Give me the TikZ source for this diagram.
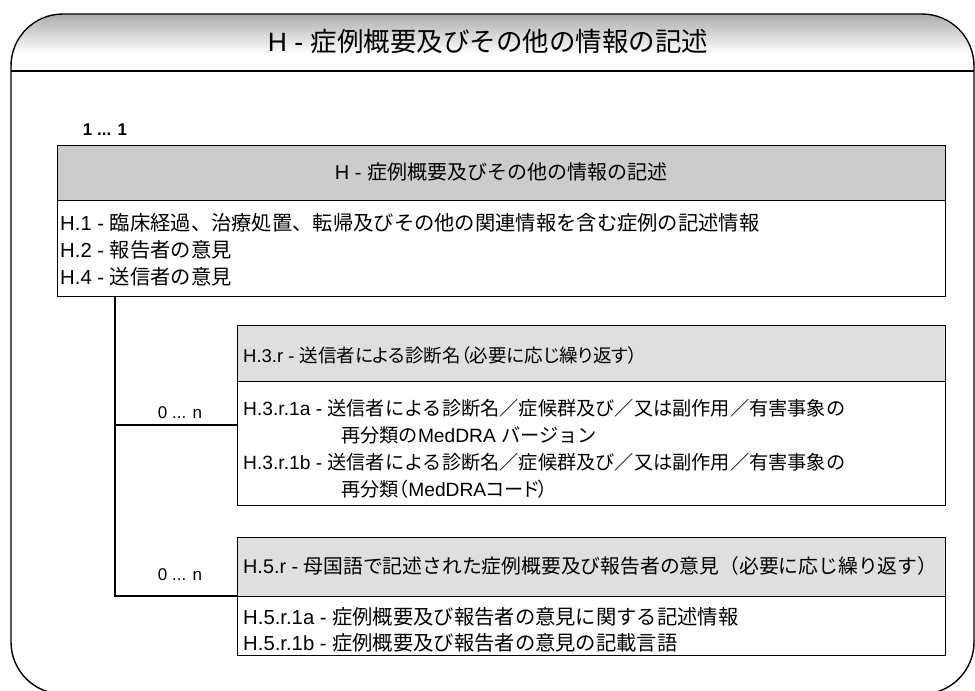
\documentclass[tikz,border=0pt]{standalone}
\usepackage{fontspec}
\setmainfont{Noto Sans CJK JP}
\newfontfamily\jpp{Noto Sans CJK JP}[RawFeature=+palt]
\newfontfamily\lat{Liberation Sans}
\usetikzlibrary{positioning}
\tikzset{
  boxline/.style={draw=black, line width=0.9pt},
  hdrmain/.style={boxline, fill=gray!40, anchor=north west, inner sep=0pt},
  hdrsub/.style={boxline, fill=gray!25, anchor=north west, inner sep=0pt},
  bodybox/.style={boxline, fill=white, anchor=north west, inner sep=0pt},
  txt/.style={anchor=west, inner sep=0pt, font=\fontsize{20.3}{21}\selectfont},
  txtb/.style={anchor=west, inner sep=0pt, font=\fontsize{19.2}{20}\selectfont},
  ctxt/.style={inner sep=0pt, font=\fontsize{20}{21}\selectfont},
  mult/.style={inner sep=0pt, font=\lat\fontsize{17}{18}\selectfont},
  conn/.style={draw=black, line width=1.8pt},
}
\begin{document}
\begin{tikzpicture}[x=1pt,y=-1pt]
\useasboundingbox (0,0) rectangle (975,691);
\begin{scope}
\clip (0,0) rectangle (975,691);
% title band shading
\begin{scope}
\clip[rounded corners=55pt] (11,14) rectangle (974,694);
\shade[top color=gray!65, bottom color=white] (0,14) rectangle (975,54);
\fill[white] (0,54) rectangle (975,71);
\end{scope}
\draw[line width=1.4pt, rounded corners=52pt] (11,14) rectangle (974,694);
\end{scope}
\draw[line width=1.4pt] (11,71) -- (974,71);
\node[font=\fontsize{26.5}{27}\selectfont] (title) at (488,41) {{\lat H - }症例概要及びその他の情報の記述};

% multiplicity
\node[mult, font=\lat\bfseries\fontsize{17}{18}\selectfont] (m11) at (105,130) {1 ... 1};

% main box
\node[hdrmain, minimum width=888pt, minimum height=55pt] (mainhdr) at (57,145) {};
\node[bodybox, minimum width=888pt, minimum height=96pt] (mainbody) at (57,200) {};
\node[ctxt] (mainttl) at (501,172) {{\lat H - }症例概要及びその他の情報の記述};
\node[txt] (h1) at (60,223) {{\lat H.1 - }臨床経過、治療処置、転帰及びその他の関連情報を含む症例の記述情報};
\node[txt] (h2) at (60,250) {{\lat H.2 - }報告者の意見};
\node[txt] (h4) at (60,277) {{\lat H.4 - }送信者の意見};

% H.3.r box
\node[hdrsub, minimum width=708pt, minimum height=56pt] (h3hdr) at (237,325) {};
\node[bodybox, minimum width=708pt, minimum height=124pt] (h3body) at (237,381) {};
\node[txt, font=\jpp\fontsize{18.5}{20}\selectfont] (h3t) at (243,355) {{\lat H.3.r - }送信者による診断名（必要に応じ繰り返す）};
\node[txtb] (h3a) at (243,408) {{\lat H.3.r.1a - }送信者による診断名／症候群及び／又は副作用／有害事象の};
\node[txtb] (h3a2) at (341,435) {再分類の{\lat MedDRA }バージョン};
\node[txtb] (h3b) at (243,462) {{\lat H.3.r.1b - }送信者による診断名／症候群及び／又は副作用／有害事象の};
\node[txtb, font=\jpp\fontsize{19.2}{20}\selectfont] (h3b2) at (341,489) {再分類（{\lat MedDRA}コード）};

% H.5.r box
\node[hdrsub, minimum width=708pt, minimum height=59pt] (h5hdr) at (237,537) {};
\node[bodybox, minimum width=708pt, minimum height=59pt] (h5body) at (237,596) {};
\node[txt, font=\fontsize{19.8}{21}\selectfont] (h5t) at (243,566) {{\lat H.5.r - }母国語で記述された症例概要及び報告者の意見（必要に応じ繰り返す）};
\node[txt] (h5a) at (243,617) {{\lat H.5.r.1a - }症例概要及び報告者の意見に関する記述情報};
\node[txt] (h5b) at (243,643) {{\lat H.5.r.1b - }症例概要及び報告者の意見の記載言語};

% connectors
\coordinate (trunk) at (115,296);
\coordinate (j3) at (115,425);
\draw[conn] (trunk) |- (h5body.north west);
\draw[conn] (j3) -- (j3 -| h3body.west);
\node[mult] (n3) at (180,413) {0 ... n};
\node[mult] (n5) at (180,575) {0 ... n};
\end{tikzpicture}
\end{document}
